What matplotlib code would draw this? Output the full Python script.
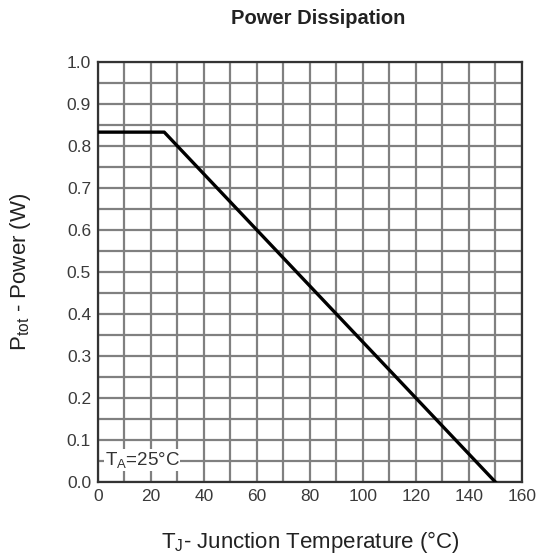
import numpy as np
import matplotlib.pyplot as plt

plt.rcParams['font.family'] = ['Liberation Sans', 'DejaVu Sans']
plt.rcParams['mathtext.default'] = 'regular'

# derating curve: Tj (°C) vs Ptot (W)
temp = [0, 25, 150]
power = [0.833, 0.833, 0.0]

x_ticks = [0, 20, 40, 60, 80, 100, 120, 140, 160]
y_ticks = [0.0, 0.1, 0.2, 0.3, 0.4, 0.5, 0.6, 0.7, 0.8, 0.9, 1.0]

fig = plt.figure(figsize=(5.43, 5.57), dpi=100)
ax = fig.add_axes([0.1805, 0.1347, 0.7805, 0.754])

ax.plot(temp, power, color='black', linewidth=2.4, zorder=3)

ax.set_xlim(0, 160)
ax.set_ylim(0, 1.0)
ax.set_xticks(x_ticks)
ax.set_yticks(y_ticks)
ax.set_yticklabels([f'{v:.1f}' for v in y_ticks])
ax.set_xticks(np.arange(0, 161, 10), minor=True)
ax.set_yticks(np.arange(0, 1.001, 0.05), minor=True)
ax.grid(which='both', color='#808080', linewidth=1.6)
ax.tick_params(which='both', length=0, labelsize=12.5, colors='#3a3a3a', pad=5)
for s in ax.spines.values():
    s.set_color('#333333')
    s.set_linewidth(1.6)
ax.set_axisbelow(True)

ax.text(2.5, 0.04, r'T$_A$=25°C', fontsize=13.5, color='#333333',
        bbox=dict(facecolor='white', edgecolor='none', pad=0.5), zorder=4)

ax.set_title('Power Dissipation', fontsize=14.5, fontweight='bold', pad=27,
             color='#222222', x=0.52)
ax.set_xlabel(r'T$_J$- Junction Temperature (°C)', fontsize=16, labelpad=18, color='#222222')
ax.set_ylabel(r'P$_{tot}$ - Power (W)', fontsize=16, labelpad=24, color='#222222')

fig.savefig('out.png', dpi=100)
